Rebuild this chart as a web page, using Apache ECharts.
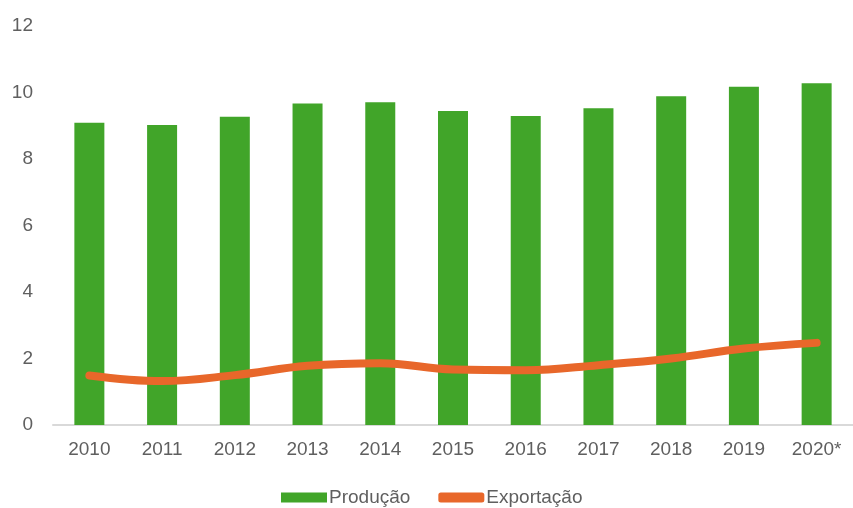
<!DOCTYPE html>
<html>
<head>
<meta charset="utf-8">
<script src="https://cdn.jsdelivr.net/npm/echarts@6/dist/echarts.min.js"></script>
<style>
html,body{margin:0;padding:0;background:#fff;}
#c{width:853px;height:508px;}
</style>
</head>
<body>
<div id="c"></div>
<script>
const categories = ['2010','2011','2012','2013','2014','2015','2016','2017','2018','2019','2020*'];
const producao = [9.09, 9.02, 9.27, 9.67, 9.71, 9.44, 9.29, 9.53, 9.89, 10.17, 10.28];
const exportacao = [1.49, 1.32, 1.50, 1.78, 1.86, 1.67, 1.65, 1.80, 2.00, 2.30, 2.47];
const yTicks = {min: 0, max: 12, interval: 2};

const font = 'Liberation Sans, Arial, sans-serif';
const chart = echarts.init(document.getElementById('c'));
chart.setOption({
  animation: false,
  backgroundColor: '#ffffff',
  grid: {left: 53, top: 26, width: 804, height: 399, containLabel: false},
  legend: {
    left: 276, top: 483,
    itemWidth: 46, itemHeight: 10, itemGap: 28,
    textStyle: {fontFamily: font, fontSize: 19, color: '#5f5f5f', padding: [0, 0, 0, -3]},
    data: [{name: 'Produção', icon: 'rect'}, {name: 'Exportação', icon: 'roundRect'}]
  },
  xAxis: {
    type: 'category',
    data: categories,
    axisLine: {lineStyle: {color: '#d9d9d9', width: 2}},
    axisTick: {show: false},
    axisLabel: {fontFamily: font, fontSize: 19, color: '#5f5f5f', margin: 15}
  },
  yAxis: {
    type: 'value',
    min: yTicks.min, max: yTicks.max, interval: yTicks.interval,
    axisLine: {show: false},
    axisTick: {show: false},
    splitLine: {show: false},
    axisLabel: {fontFamily: font, fontSize: 19, color: '#5f5f5f', margin: 20}
  },
  series: [
    {
      name: 'Produção', type: 'bar', data: producao,
      barWidth: 30,
      itemStyle: {color: '#41a529'}
    },
    {
      name: 'Exportação', type: 'line', data: exportacao,
      smooth: 0.4, symbol: 'none', showSymbol: false,
      lineStyle: {color: '#e8672a', width: 8, cap: 'round'},
      itemStyle: {color: '#e8672a'}
    }
  ]
});
</script>
</body>
</html>
